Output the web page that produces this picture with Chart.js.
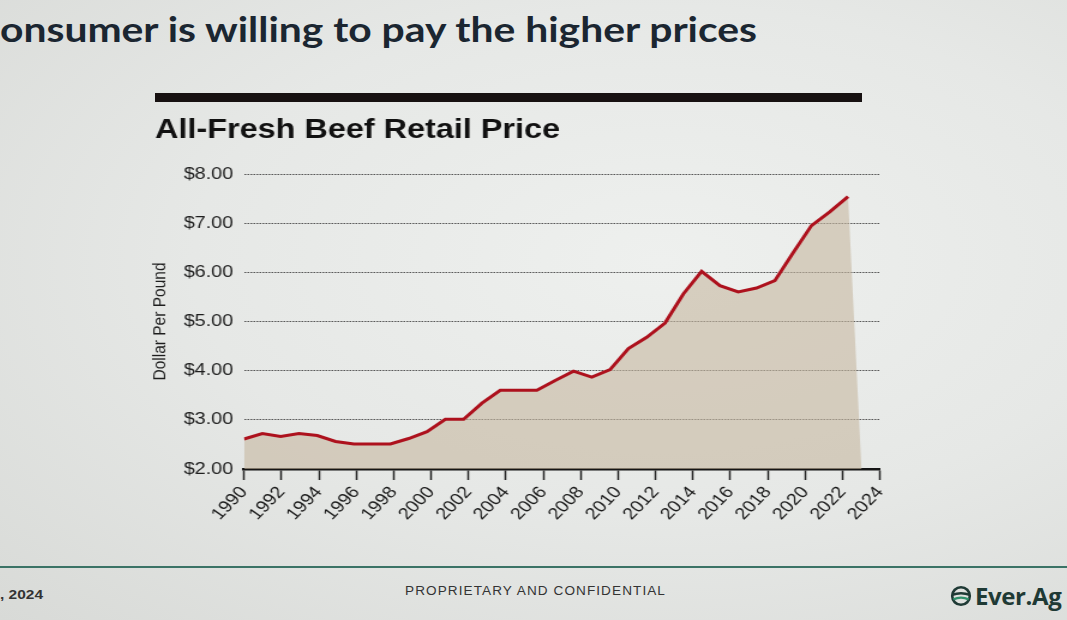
<!DOCTYPE html>
<html lang="en">
  <head>
    <meta charset="UTF-8" />
    <title>All-Fresh Beef Retail Price</title>
    <script src="https://cdn.jsdelivr.net/npm/chart.js"></script>
    <style>
      body {
        margin: 0;
        width: 1067px;
        height: 620px;
        overflow: hidden;
        position: relative;
        background: radial-gradient(ellipse at 62% 42%, #eef0ee 0%, #e6e8e6 50%, #d8dad7 100%);
        font-family: "Liberation Sans", Arial, sans-serif;
      }
      .headline {
        position: absolute;
        left: 0;
        top: 7px;
        font-family: Lato, sans-serif;
        font-weight: 700;
        font-size: 35px;
        color: #1b2631;
        white-space: nowrap;
        transform-origin: 0 0;
      }
      .bar {
        position: absolute;
        left: 155px;
        top: 93px;
        width: 707px;
        height: 9px;
        background: #171111;
      }
      #chartBox {
        position: absolute;
        left: 140px;
        top: 108px;
        width: 640px;
        height: 421px;
        transform: scaleX(1.2);
        transform-origin: 0 0;
      }
      .footline {
        position: absolute;
        left: 0;
        top: 566px;
        width: 1067px;
        height: 2px;
        background: #3b7366;
      }
      .foot {
        position: absolute;
        white-space: nowrap;
        color: #333;
        transform-origin: 0 0;
      }
      .logo {
        position: absolute;
        left: 950px;
        top: 579px;
        display: flex;
        align-items: center;
        gap: 3px;
        font-family: "Open Sans", sans-serif;
        font-weight: 700;
        font-size: 24px;
        color: #1f3a35;
        letter-spacing: -0.4px;
      }
    </style>
  </head>

  <body>
    <div class="headline" id="headline">onsumer is willing to pay the higher prices</div>
    <div class="bar"></div>

    <div id="chartBox">
      <canvas id="beefChart" width="640" height="421"></canvas>
    </div>

    <div class="footline"></div>
    <div class="foot" id="footDate" style="left: 0; top: 588px; font-size: 12px; font-weight: bold">, 2024</div>
    <div class="foot" id="footConf" style="left: 405px; top: 584px; font-size: 12.5px; letter-spacing: 1px">PROPRIETARY AND CONFIDENTIAL</div>
    <div class="logo">
      <svg width="22" height="22" viewBox="0 0 20 20">
        <circle cx="10" cy="10" r="8" fill="none" stroke="#1f3a35" stroke-width="2.4" />
        <path d="M2 9 Q10 6 18 9" stroke="#1f3a35" stroke-width="2.2" fill="none" />
        <path d="M3 13 Q10 10 17 13" stroke="#2f8f6a" stroke-width="2.2" fill="none" />
      </svg>
      <span>Ever.Ag</span>
    </div>

    <script>
      // yearly retail price, dollars per pound
      const years = [
        1990, 1991, 1992, 1993, 1994, 1995, 1996, 1997, 1998, 1999,
        2000, 2001, 2002, 2003, 2004, 2005, 2006, 2007, 2008, 2009,
        2010, 2011, 2012, 2013, 2014, 2015, 2016, 2017, 2018, 2019,
        2020, 2021, 2022, 2023,
      ];
      const prices = [
        2.61, 2.72, 2.66, 2.72, 2.68, 2.56, 2.51, 2.51, 2.51, 2.62,
        2.76, 3.01, 3.01, 3.34, 3.6, 3.6, 3.6, 3.8, 3.99, 3.87,
        4.02, 4.45, 4.68, 4.97, 5.56, 6.02, 5.73, 5.6, 5.68, 5.83,
        6.4, 6.95, 7.23, 7.54,
      ];
      // the shaded area drops to zero one year after the last point
      const areaEndYear = 2024;
      const areaEndValue = 0;

      const tickYears = [
        1990, 1992, 1994, 1996, 1998, 2000, 2002, 2004, 2006, 2008,
        2010, 2012, 2014, 2016, 2018, 2020, 2022, 2024,
      ];
      const priceTicks = [2, 3, 4, 5, 6, 7, 8];

      // squeeze a text block to a given width (slide was projected stretched)
      function fitWidth(el, w) {
        const natural = el.getBoundingClientRect().width;
        el.style.transform = `scaleX(${w / natural})`;
      }
      fitWidth(document.getElementById("headline"), 757);
      fitWidth(document.getElementById("footConf"), 261);
      fitWidth(document.getElementById("footDate"), 43);

      const linePoints = years.map((y, i) => ({ x: y, y: prices[i] }));
      const areaPoints = linePoints.concat([{ x: areaEndYear, y: areaEndValue }]);

      const font = "'Liberation Sans', Arial, sans-serif";
      const ctx = document.getElementById("beefChart").getContext("2d");

      new Chart(ctx, {
        type: "line",
        data: {
          datasets: [
            {
              label: "Retail price",
              data: linePoints,
              xAxisID: "xd",
              borderColor: "#ad111d",
              borderWidth: 3,
              pointRadius: 0,
              tension: 0,
              fill: false,
            },
            {
              label: "Area",
              data: areaPoints,
              xAxisID: "xd",
              borderWidth: 0,
              pointRadius: 0,
              tension: 0,
              fill: "start",
              backgroundColor: "rgba(198, 184, 160, 0.6)",
            },
          ],
        },
        options: {
          responsive: false,
          animation: false,
          layout: { padding: { left: 12.5, right: 23.3, top: 0, bottom: 0 } },
          plugins: {
            legend: { display: false },
            tooltip: { enabled: false },
            title: {
              display: true,
              text: "All-Fresh Beef Retail Price",
              align: "start",
              color: "#111",
              font: { family: font, size: 27, weight: "bold", lineHeight: 1.2 },
              padding: { top: 6, bottom: 27.6 },
            },
          },
          scales: {
            xd: {
              type: "linear",
              display: false,
              min: 1990,
              max: 2024.75,
            },
            x: {
              type: "linear",
              position: "bottom",
              min: 1990,
              max: 2024,
              afterBuildTicks: (scale) => {
                scale.ticks = tickYears.map((v) => ({ value: v }));
              },
              afterFit: (scale) => {
                scale.height = 60;
              },
              grid: {
                drawOnChartArea: false,
                drawTicks: true,
                tickLength: 11,
                tickColor: "#222",
                tickWidth: 1.5,
              },
              border: { display: true, color: "#151515", width: 2.5 },
              ticks: {
                autoSkip: false,
                minRotation: 50,
                maxRotation: 50,
                padding: 3,
                color: "#1a1a1a",
                font: { family: font, size: 16.5 },
                callback: (v) => String(v),
              },
            },
            y: {
              min: 2,
              max: 8,
              afterBuildTicks: (scale) => {
                scale.ticks = priceTicks.map((v) => ({ value: v }));
              },
              afterFit: (scale) => {
                scale.width = 74.17;
              },
              grid: {
                drawTicks: false,
                color: (c) => (c.tick && c.tick.value === 2 ? "rgba(0,0,0,0)" : "#4f4f4f"),
                lineWidth: 1,
              },
              border: { display: false, dash: [1.5, 1] },
              ticks: {
                padding: 9,
                color: "#1e1e1e",
                font: { family: font, size: 16.5 },
                callback: (v) => "$" + Number(v).toFixed(2),
              },
              title: {
                display: true,
                text: "Dollar Per Pound",
                color: "#1e1e1e",
                padding: 0,
                font: { family: font, size: 15.5, lineHeight: 0.55 },
              },
            },
          },
        },
      });
    </script>
  </body>
</html>
